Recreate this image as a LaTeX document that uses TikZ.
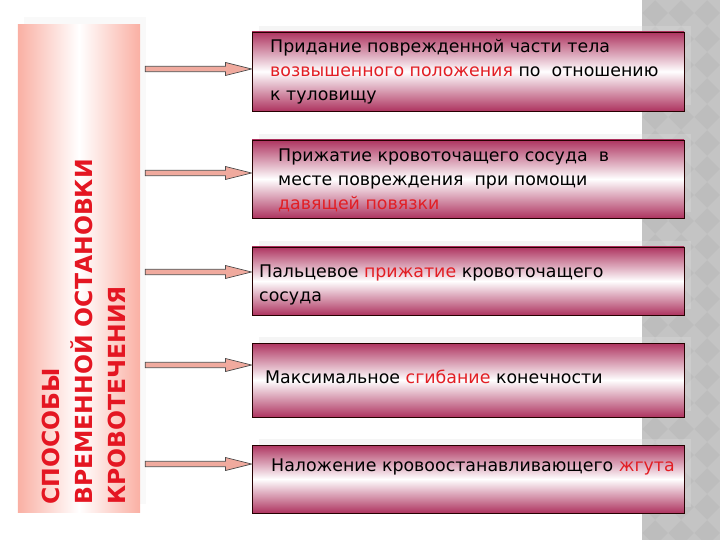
\documentclass[tikz,border=0pt]{standalone}
\usepackage{fontspec}
\setmainfont{DejaVu Sans}
\usetikzlibrary{calc,shadows}
\definecolor{boxred}{RGB}{174,52,96}
\definecolor{titlered}{RGB}{228,22,34}
\definecolor{wordred}{RGB}{226,30,36}
\definecolor{salmon}{RGB}{250,176,164}
\definecolor{arrowfill}{RGB}{240,170,158}
\definecolor{stripgray}{RGB}{189,189,189}
\definecolor{diamgray}{RGB}{196,196,196}
\tikzset{
	itembox/.style={draw=black!85!red, line width=0.9bp, minimum width=432bp, inner sep=0,
		top color=boxred, bottom color=boxred, middle color=white,
		general shadow={shadow xshift=7bp, shadow yshift=6bp, fill=gray!25, fill opacity=0.3}},
	itemtext/.style={anchor=west, align=left, inner sep=0, font=\fontsize{17.4bp}{24bp}\selectfont},
	fatarrow/.style={draw=black!70, fill=arrowfill, line width=0.7bp, line join=miter},
}
\newcommand{\hl}[1]{\textcolor{wordred}{#1}}
\begin{document}
\begin{tikzpicture}[x=1bp,y=-1bp]
		\useasboundingbox (0,0) rectangle (720,540);
		% grey strip on the right
		\fill[stripgray] (642,0) rectangle (720,540);
		\begin{scope}
			\clip (642,0) rectangle (720,540);
			\foreach \i in {0,...,3}
				\foreach \j in {0,...,21}
					\fill[diamgray] (642+26*\i,26*\j-13) -- (655+26*\i,26*\j) -- (642+26*\i,26*\j+13) -- (629+26*\i,26*\j) -- cycle;
		\end{scope}
		% left box
		\node[minimum width=122bp, minimum height=487bp, inner sep=0,
			left color=salmon, right color=salmon, middle color=white,
			general shadow={shadow xshift=6bp, shadow yshift=8bp, fill=gray!15, fill opacity=0.3}]
			(ways) at (79,268.5) {};
		\node[rotate=90, anchor=north west, align=left, inner sep=0, text=titlered,
			font=\bfseries\fontsize{23.5bp}{33bp}\selectfont] (title) at (42,505)
			{СПОСОБЫ\\ВРЕМЕННОЙ ОСТАНОВКИ\\КРОВОТЕЧЕНИЯ};
		% boxes
		\node[itembox, minimum height=79bp] (b1) at (468,71.5) {};
		\node[itembox, minimum height=78bp] (b2) at (468,179) {};
		\node[itembox, minimum height=68bp] (b3) at (468,281) {};
		\node[itembox, minimum height=74bp] (b4) at (468,380) {};
		\node[itembox, minimum height=68bp] (b5) at (468,479) {};
		\node[itemtext] (t1) at (270,71.5) {Придание поврежденной части тела\\\hl{возвышенного положения} по\ \ отношению\\к туловищу};
		\node[itemtext] (t2) at (278,180.5) {Прижатие кровоточащего сосуда\ \ в\\месте повреждения\ \ при помощи\\\hl{давящей повязки}};
		\node[itemtext] (t3) at (259,285) {Пальцевое \hl{прижатие} кровоточащего\\сосуда};
		\node[itemtext] (t4) at (265,377) {Максимальное \hl{сгибание} конечности};
		\node[itemtext] (t5) at (271,467) {Наложение кровоостанавливающего \hl{жгута}};
		% arrows
		\foreach \n/\y in {1/69,2/173,3/272,4/365,5/464}{
			\coordinate (s\n) at ([xshift=5bp]ways.east |- 0,\y);
			\coordinate (e\n) at (b\n.west |- 0,\y);
			\draw[fatarrow] ($(s\n)+(0,-2.7)$) -- ($(e\n)+(-26,-2.7)$) -- ($(e\n)+(-26,-6.5)$) -- (e\n)
				-- ($(e\n)+(-26,6.5)$) -- ($(e\n)+(-26,2.7)$) -- ($(s\n)+(0,2.7)$) -- cycle;
		}
\end{tikzpicture}
\end{document}
